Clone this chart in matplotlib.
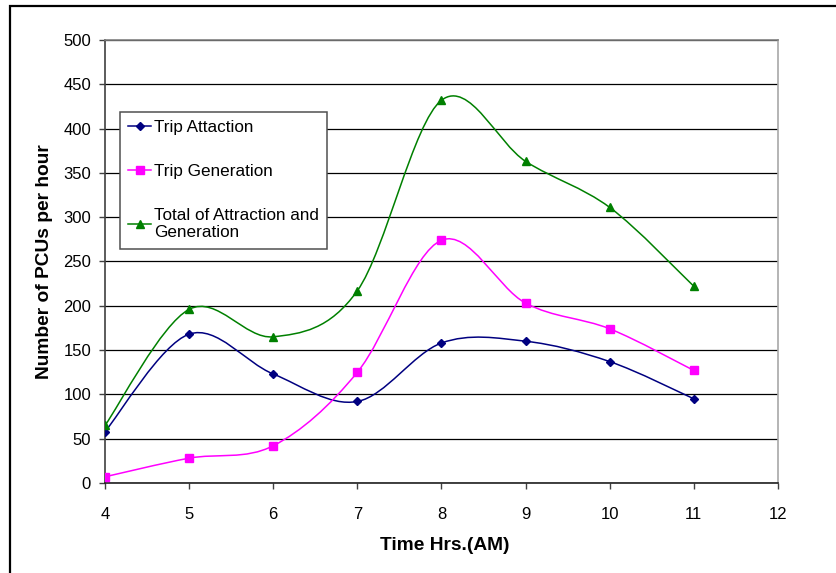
import numpy as np
import matplotlib
matplotlib.use("Agg")
import matplotlib.pyplot as plt
from matplotlib.path import Path
from matplotlib.patches import PathPatch, Rectangle
from matplotlib.lines import Line2D

# ── data ─────────────────────────────────────────────────────────────────────
hours = [4, 5, 6, 7, 8, 9, 10, 11]
attraction = [58, 168, 123, 92, 158, 160, 137, 95]
generation = [7, 28, 42, 125, 274, 203, 174, 127]
total = [65, 196, 165, 217, 432, 363, 311, 222]

labels = ["Trip Attaction", "Trip Generation", "Total of Attraction and\nGeneration"]
colors = ["#000080", "#FF00FF", "#008000"]
markers = ["D", "s", "^"]
msizes = [4.5, 6, 6]

plt.rcParams["font.family"] = ["Liberation Sans", "DejaVu Sans"]


def smooth_path(xs, ys):
    """Bezier path through the points, spreadsheet-style smoothed line."""
    pts = np.column_stack([xs, ys]).astype(float)
    n = len(pts)
    verts = [pts[0]]
    codes = [Path.MOVETO]
    for i in range(n - 1):
        p0 = pts[i - 1] if i > 0 else pts[i]
        p1 = pts[i]
        p2 = pts[i + 1]
        p3 = pts[i + 2] if i + 2 < n else pts[i + 1]
        c1 = p1 + (p2 - p0) / 6.0
        c2 = p2 - (p3 - p1) / 6.0
        verts += [c1, c2, p2]
        codes += [Path.CURVE4] * 3
    return Path(verts, codes)


fig = plt.figure(figsize=(8.36, 5.73), dpi=100)
fig.patch.set_facecolor("white")
ax = fig.add_axes([0.1256, 0.1571, 0.8050, 0.7731])

series = [attraction, generation, total]
for vals, col, mk, ms in zip(series, colors, markers, msizes):
    ax.add_patch(PathPatch(smooth_path(hours, vals), facecolor="none",
                           edgecolor=col, linewidth=1.1, zorder=3))
    ax.plot(hours, vals, linestyle="none", marker=mk, markersize=ms,
            color=col, markeredgecolor=col, zorder=4)

ax.set_xlim(4, 12)
ax.set_ylim(0, 500)
ax.set_xticks(range(4, 13))
ax.set_yticks(range(0, 501, 50))
ax.yaxis.grid(True, color="black", linewidth=0.9)
ax.set_axisbelow(True)

ax.spines["left"].set_color("#404040")
ax.spines["bottom"].set_color("#202020")
ax.spines["top"].set_color("#808080")
ax.spines["right"].set_color("#a8a8a8")
for s in ax.spines.values():
    s.set_linewidth(1.2)

ax.tick_params(axis="both", direction="out", length=4, width=1,
               color="#404040", labelsize=12)
ax.tick_params(axis="x", pad=13)
ax.tick_params(axis="y", pad=6)

ax.set_xlabel("Time Hrs.(AM)", fontsize=13.8, fontweight="bold")
ax.set_ylabel("Number of PCUs per hour", fontsize=13.8, fontweight="bold")
ax.xaxis.set_label_coords(0.505, -0.122)
ax.yaxis.set_label_coords(-0.078, 0.5)

handles = [Line2D([0], [0], color=c, marker=m, markersize=ms * 0.9, linewidth=1.1)
           for c, m, ms in zip(colors, markers, msizes)]
leg = ax.legend(handles, labels, loc="upper left", bbox_to_anchor=(0.022, 0.838),
                borderaxespad=0, fontsize=12.3, frameon=True, fancybox=False,
                framealpha=1, edgecolor="#505050", handlelength=1.35,
                handletextpad=0.15, labelspacing=1.68, borderpad=0.5)
leg.get_frame().set_linewidth(1.1)

# chart frame (left and top edges fall inside the image)
fig.add_artist(Rectangle((0.0125, -0.1), 1.2, 1.0895, fill=False,
                         edgecolor="black", linewidth=1.6,
                         transform=fig.transFigure, clip_on=False))

fig.savefig("out.png", dpi=100, facecolor="white")
